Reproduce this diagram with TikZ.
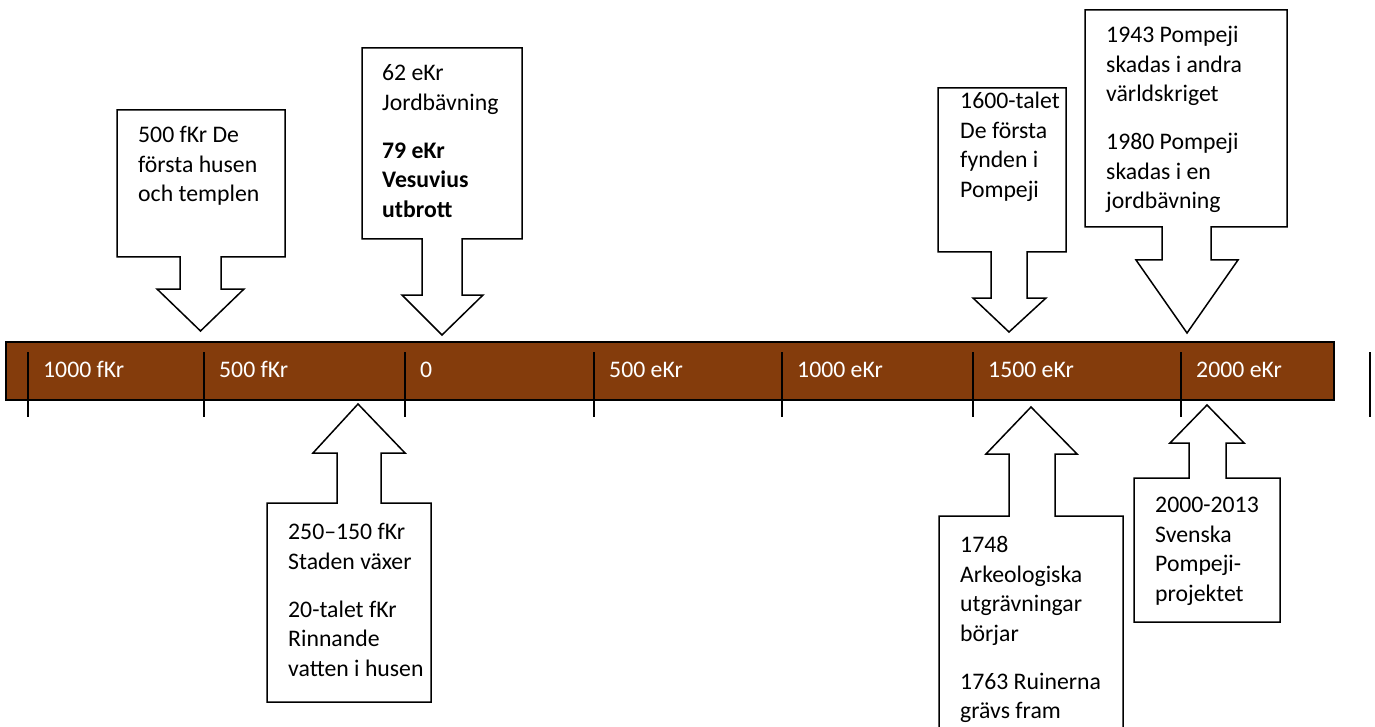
\documentclass[tikz,border=0pt]{standalone}
\usepackage{fontspec}
\setmainfont{Carlito}
\usepackage{tikz}
\pgfdeclarelayer{edgelayer}
\pgfdeclarelayer{nodelayer}
\pgfsetlayers{edgelayer,nodelayer,main}
\definecolor{barbrown}{RGB}{132,60,12}
\tikzstyle{none} = []
\tikzstyle{bar} = [draw=black, fill=barbrown, line width=2pt]
\tikzstyle{tick} = [draw=black, line width=2pt]
\tikzstyle{callout} = [draw=black, fill=white, line width=1.5pt, line join=miter]
\tikzstyle{bar text} = [anchor=base west, inner sep=0pt, text=white, font=\fontsize{23.75}{29.5}\selectfont]
\tikzstyle{box text} = [anchor=north west, inner sep=0pt, align=left, font=\fontsize{23.75}{29.5}\selectfont]

\begin{document}
\begin{tikzpicture}[x=1pt, y=-1pt]
	\useasboundingbox (0,0) rectangle (1375,727);
	\begin{pgfonlayer}{nodelayer}
		\node [style=none] (0) at (6, 342) {};
		\node [style=none] (1) at (1334, 400) {};
		\node [style=none] (2) at (28, 352) {};
		\node [style=none] (3) at (28, 417) {};
		\node [style=none] (4) at (204, 352) {};
		\node [style=none] (5) at (204, 417) {};
		\node [style=none] (6) at (405, 352) {};
		\node [style=none] (7) at (405, 417) {};
		\node [style=none] (8) at (594, 352) {};
		\node [style=none] (9) at (594, 417) {};
		\node [style=none] (10) at (782, 352) {};
		\node [style=none] (11) at (782, 417) {};
		\node [style=none] (12) at (973, 352) {};
		\node [style=none] (13) at (973, 417) {};
		\node [style=none] (14) at (1181, 352) {};
		\node [style=none] (15) at (1181, 417) {};
		\node [style=none] (16) at (1370, 352) {};
		\node [style=none] (17) at (1370, 417) {};
		\node [style=none] (18) at (117, 110) {};
		\node [style=none] (19) at (285, 110) {};
		\node [style=none] (20) at (285, 257) {};
		\node [style=none] (21) at (221, 257) {};
		\node [style=none] (22) at (221, 289) {};
		\node [style=none] (23) at (244, 289) {};
		\node [style=none] (24) at (200.5, 331) {};
		\node [style=none] (25) at (157, 289) {};
		\node [style=none] (26) at (180, 289) {};
		\node [style=none] (27) at (180, 257) {};
		\node [style=none] (28) at (117, 257) {};
		\node [style=none] (29) at (362, 48) {};
		\node [style=none] (30) at (522, 48) {};
		\node [style=none] (31) at (522, 239) {};
		\node [style=none] (32) at (462, 239) {};
		\node [style=none] (33) at (462, 295) {};
		\node [style=none] (34) at (483, 295) {};
		\node [style=none] (35) at (442, 335) {};
		\node [style=none] (36) at (402, 295) {};
		\node [style=none] (37) at (422, 295) {};
		\node [style=none] (38) at (422, 239) {};
		\node [style=none] (39) at (362, 239) {};
		\node [style=none] (40) at (938, 88) {};
		\node [style=none] (41) at (1066, 88) {};
		\node [style=none] (42) at (1066, 252) {};
		\node [style=none] (43) at (1027, 252) {};
		\node [style=none] (44) at (1027, 298) {};
		\node [style=none] (45) at (1046, 298) {};
		\node [style=none] (46) at (1009, 332) {};
		\node [style=none] (47) at (973, 298) {};
		\node [style=none] (48) at (991, 298) {};
		\node [style=none] (49) at (991, 252) {};
		\node [style=none] (50) at (938, 252) {};
		\node [style=none] (51) at (1085, 10) {};
		\node [style=none] (52) at (1287, 10) {};
		\node [style=none] (53) at (1287, 227) {};
		\node [style=none] (54) at (1211, 227) {};
		\node [style=none] (55) at (1211, 260) {};
		\node [style=none] (56) at (1238, 260) {};
		\node [style=none] (57) at (1187, 333) {};
		\node [style=none] (58) at (1136, 260) {};
		\node [style=none] (59) at (1162, 260) {};
		\node [style=none] (60) at (1162, 227) {};
		\node [style=none] (61) at (1085, 227) {};
		\node [style=none] (62) at (267, 702) {};
		\node [style=none] (63) at (267, 503) {};
		\node [style=none] (64) at (337, 503) {};
		\node [style=none] (65) at (337, 453) {};
		\node [style=none] (66) at (313, 453) {};
		\node [style=none] (67) at (358, 404) {};
		\node [style=none] (68) at (405, 453) {};
		\node [style=none] (69) at (381, 453) {};
		\node [style=none] (70) at (381, 503) {};
		\node [style=none] (71) at (431, 503) {};
		\node [style=none] (72) at (431, 702) {};
		\node [style=none] (73) at (939, 740) {};
		\node [style=none] (74) at (939, 516) {};
		\node [style=none] (75) at (1009, 516) {};
		\node [style=none] (76) at (1009, 454) {};
		\node [style=none] (77) at (986, 454) {};
		\node [style=none] (78) at (1031, 407) {};
		\node [style=none] (79) at (1077, 454) {};
		\node [style=none] (80) at (1055, 454) {};
		\node [style=none] (81) at (1055, 516) {};
		\node [style=none] (82) at (1123, 516) {};
		\node [style=none] (83) at (1123, 740) {};
		\node [style=none] (84) at (1134, 622) {};
		\node [style=none] (85) at (1134, 478) {};
		\node [style=none] (86) at (1189, 478) {};
		\node [style=none] (87) at (1189, 443) {};
		\node [style=none] (88) at (1170, 443) {};
		\node [style=none] (89) at (1207, 405) {};
		\node [style=none] (90) at (1244, 443) {};
		\node [style=none] (91) at (1226, 443) {};
		\node [style=none] (92) at (1226, 478) {};
		\node [style=none] (93) at (1280, 478) {};
		\node [style=none] (94) at (1280, 622) {};
		\node [style=box text] (95) at (138, 121.85) {\strut 500 fKr De\\första husen\\och templen};
		\node [style=box text] (96) at (382, 59.85) {\strut 62 eKr\\Jordbävning\\[18.5pt]\textbf{79 eKr}\\\textbf{Vesuvius}\\\textbf{utbrott}};
		\node [style=box text] (97) at (960, 87.85) {\strut 1600-talet\\De första\\fynden i\\Pompeji};
		\node [style=box text] (98) at (1106, 21.85) {\strut 1943 Pompeji\\skadas i andra\\världskriget\\[18.5pt]1980 Pompeji\\skadas i en\\jordbävning};
		\node [style=box text] (99) at (288, 518.85) {\strut 250–150 fKr\\Staden växer\\[18.5pt]20-talet fKr\\Rinnande\\vatten i husen};
		\node [style=box text] (100) at (960, 531.85) {\strut 1748\\Arkeologiska\\utgrävningar\\börjar\\[18.5pt]1763 Ruinerna\\grävs fram};
		\node [style=box text] (101) at (1155, 491.85) {\strut 2000-2013\\Svenska\\Pompeji-\\projektet};
		\node [style=bar text] (102) at (43, 377) {1000 fKr};
		\node [style=bar text] (103) at (219, 377) {500 fKr};
		\node [style=bar text] (104) at (420, 377) {0};
		\node [style=bar text] (105) at (609, 377) {500 eKr};
		\node [style=bar text] (106) at (797, 377) {1000 eKr};
		\node [style=bar text] (107) at (988, 377) {1500 eKr};
		\node [style=bar text] (108) at (1196, 377) {2000 eKr};
	\end{pgfonlayer}
	\begin{pgfonlayer}{edgelayer}
		\draw [style=bar] (0.center) rectangle (1.center);
		\draw [style=tick] (2.center) to (3.center);
		\draw [style=tick] (4.center) to (5.center);
		\draw [style=tick] (6.center) to (7.center);
		\draw [style=tick] (8.center) to (9.center);
		\draw [style=tick] (10.center) to (11.center);
		\draw [style=tick] (12.center) to (13.center);
		\draw [style=tick] (14.center) to (15.center);
		\draw [style=tick] (16.center) to (17.center);
		\draw [style=callout] (18.center) to (19.center) to (20.center) to (21.center) to (22.center) to (23.center) to (24.center) to (25.center) to (26.center) to (27.center) to (28.center) -- cycle;
		\draw [style=callout] (29.center) to (30.center) to (31.center) to (32.center) to (33.center) to (34.center) to (35.center) to (36.center) to (37.center) to (38.center) to (39.center) -- cycle;
		\draw [style=callout] (40.center) to (41.center) to (42.center) to (43.center) to (44.center) to (45.center) to (46.center) to (47.center) to (48.center) to (49.center) to (50.center) -- cycle;
		\draw [style=callout] (51.center) to (52.center) to (53.center) to (54.center) to (55.center) to (56.center) to (57.center) to (58.center) to (59.center) to (60.center) to (61.center) -- cycle;
		\draw [style=callout] (62.center) to (63.center) to (64.center) to (65.center) to (66.center) to (67.center) to (68.center) to (69.center) to (70.center) to (71.center) to (72.center) -- cycle;
		\draw [style=callout] (73.center) to (74.center) to (75.center) to (76.center) to (77.center) to (78.center) to (79.center) to (80.center) to (81.center) to (82.center) to (83.center) -- cycle;
		\draw [style=callout] (84.center) to (85.center) to (86.center) to (87.center) to (88.center) to (89.center) to (90.center) to (91.center) to (92.center) to (93.center) to (94.center) -- cycle;
	\end{pgfonlayer}
\end{tikzpicture}
\end{document}
